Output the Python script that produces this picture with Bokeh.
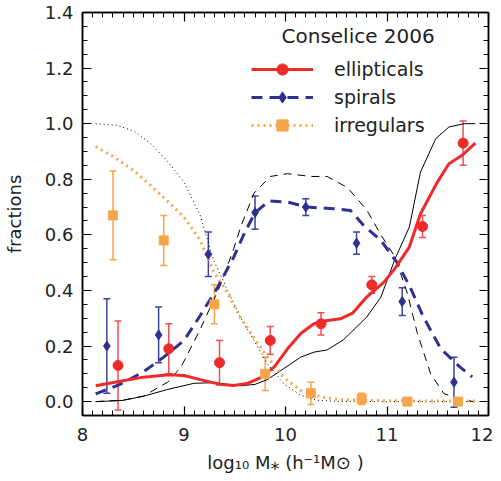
import numpy as np
from bokeh.plotting import figure
from bokeh.models import (Range1d, LinearAxis, FixedTicker, NumeralTickFormatter, CustomJSTickFormatter,
                          Whisker, TeeHead, ColumnDataSource, Legend, LegendItem, Label)
from bokeh.embed import file_html
from bokeh.resources import INLINE

# ---------------- data ----------------
# Conselice 2006 measurements
ell_x = [8.35, 8.85, 9.35, 9.85, 10.35, 10.85, 11.35, 11.75]
ell_y = [0.13, 0.19, 0.14, 0.22, 0.28, 0.42, 0.63, 0.93]
ell_err = [0.16, 0.09, 0.08, 0.05, 0.04, 0.03, 0.04, 0.08]

sp_x = [8.24, 8.75, 9.24, 9.70, 10.20, 10.70, 11.15, 11.66]
sp_y = [0.20, 0.24, 0.53, 0.68, 0.70, 0.57, 0.36, 0.07]
sp_err = [0.17, 0.10, 0.08, 0.06, 0.03, 0.04, 0.05, 0.09]

irr_x = [8.30, 8.80, 9.30, 9.80, 10.25, 10.75, 11.20, 11.70]
irr_y = [0.67, 0.58, 0.35, 0.10, 0.03, 0.01, 0.00, 0.00]
irr_err = [0.16, 0.09, 0.07, 0.06, 0.04, 0.02, 0.00, 0.00]

# model curves (thick coloured)
ell_mx = [8.13, 8.4, 8.6, 8.85, 9.0, 9.16, 9.36, 9.49, 9.62, 9.75, 9.89, 10.02, 10.15,
          10.28, 10.38, 10.54, 10.66, 10.8, 10.97, 11.07, 11.22, 11.33, 11.49, 11.61, 11.74, 11.87]
ell_my = [0.057, 0.075, 0.088, 0.097, 0.094, 0.079, 0.062, 0.058, 0.065, 0.085, 0.125, 0.19, 0.245,
          0.28, 0.29, 0.298, 0.318, 0.376, 0.43, 0.475, 0.556, 0.676, 0.786, 0.856, 0.886, 0.93]

sp_mx = [8.13, 8.37, 8.6, 8.8, 9.0, 9.16, 9.33, 9.49, 9.6, 9.7, 9.84, 10.02, 10.21, 10.47,
         10.64, 10.77, 10.94, 11.1, 11.23, 11.36, 11.53, 11.72, 11.84]
sp_my = [0.028, 0.062, 0.107, 0.16, 0.22, 0.31, 0.41, 0.52, 0.61, 0.68, 0.722, 0.718, 0.70, 0.694,
         0.688, 0.634, 0.58, 0.50, 0.41, 0.304, 0.19, 0.124, 0.089]

irr_mx = [8.13, 8.31, 8.51, 8.67, 8.83, 9.0, 9.16, 9.29, 9.43, 9.56, 9.69, 9.82, 9.98, 10.15,
          10.35, 10.54, 11.0, 11.5, 11.87]
irr_my = [0.918, 0.88, 0.83, 0.778, 0.724, 0.664, 0.58, 0.47, 0.39, 0.30, 0.23, 0.16, 0.088, 0.04,
          0.017, 0.007, 0.003, 0.002, 0.002]

# model curves (thin black)
ell_bx = [8.13, 8.39, 8.6, 8.83, 9.1, 9.3, 9.56, 9.7, 9.82, 9.96, 10.15, 10.28, 10.41, 10.57,
          10.8, 10.94, 11.08, 11.22, 11.33, 11.48, 11.61, 11.76, 11.87]
ell_by = [0.0, 0.004, 0.019, 0.043, 0.066, 0.068, 0.057, 0.062, 0.079, 0.113, 0.16, 0.178, 0.186, 0.222,
          0.304, 0.376, 0.514, 0.628, 0.826, 0.946, 0.988, 1.0, 1.0]

sp_bx = [8.13, 8.4, 8.6, 8.84, 8.97, 9.16, 9.36, 9.49, 9.56, 9.69, 9.85, 10.02, 10.25, 10.41,
         10.61, 10.8, 10.94, 11.08, 11.2, 11.3, 11.43, 11.56, 11.69, 11.85]
sp_by = [0.0, 0.005, 0.02, 0.07, 0.124, 0.26, 0.42, 0.55, 0.63, 0.75, 0.81, 0.82, 0.81, 0.81,
         0.77, 0.69, 0.60, 0.52, 0.39, 0.245, 0.10, 0.029, 0.011, 0.0]

irr_bx = [8.13, 8.34, 8.51, 8.67, 8.83, 9.0, 9.16, 9.29, 9.43, 9.56, 9.69, 9.82, 9.98, 10.15,
          10.31, 10.5, 11.0, 11.5, 11.87]
irr_by = [1.0, 0.994, 0.973, 0.928, 0.868, 0.79, 0.67, 0.51, 0.40, 0.30, 0.22, 0.137, 0.065, 0.023,
          0.005, 0.001, 0.0, 0.0, 0.0]

x_ticks = [8, 9, 10, 11, 12]
y_ticks = [0.0, 0.2, 0.4, 0.6, 0.8, 1.0, 1.2, 1.4]

labels = ["ellipticals", "spirals", "irregulars"]
title_text = "Conselice 2006"

# ---------------- style ----------------
FONT = "DejaVu Sans"
FS = "18px"
RED = "#EE2A2A"
RED_E = "#EF5050"
BLUE = "#2E3192"
BLUE_E = "#3C42A0"
ORANGE = "#F7A54B"
TXT = "#222222"

FW, FH = 406, 403
p = figure(frame_width=FW, frame_height=FH, x_range=Range1d(8, 12), y_range=Range1d(-0.05, 1.4),
           output_backend="svg", toolbar_location=None,
           min_border_left=82, min_border_right=5, min_border_top=12, min_border_bottom=58)
p.xgrid.visible = False
p.ygrid.visible = False
p.outline_line_color = "black"
p.outline_line_width = 1.5
p.background_fill_color = "white"
p.border_fill_color = "white"

yminor = [round(v, 2) for v in np.arange(-0.05, 1.41, 0.05)]
xminor = [round(v, 1) for v in np.arange(8, 12.01, 0.1)]

p.xaxis.ticker = FixedTicker(ticks=x_ticks, minor_ticks=xminor)
p.yaxis.ticker = FixedTicker(ticks=y_ticks, minor_ticks=yminor)
p.yaxis.formatter = NumeralTickFormatter(format="0.0")
for ax in (p.xaxis[0], p.yaxis[0]):
    ax.major_tick_in = 9
    ax.major_tick_out = 0
    ax.minor_tick_in = 5
    ax.minor_tick_out = 0
    ax.axis_line_width = 1.5
    ax.major_tick_line_width = 1.2
    ax.minor_tick_line_width = 1.0
    ax.major_label_text_font = FONT
    ax.major_label_text_font_size = FS
    ax.major_label_text_color = TXT
    ax.axis_label_text_font = FONT
    ax.axis_label_text_font_size = FS
    ax.axis_label_text_font_style = "normal"
    ax.axis_label_text_color = TXT
p.xaxis.major_label_standoff = 12
p.yaxis.major_label_standoff = 9
p.xaxis.axis_label = "log\u2081\u2080 M\u204e (h\u207b\u00b9M\u2299 )"
p.yaxis.axis_label = "fractions"
p.xaxis.axis_label_standoff = 8
p.yaxis.axis_label_standoff = 17

blank = CustomJSTickFormatter(code="return ''")
top = LinearAxis(ticker=FixedTicker(ticks=x_ticks, minor_ticks=xminor), formatter=blank)
right = LinearAxis(ticker=FixedTicker(ticks=y_ticks, minor_ticks=yminor), formatter=blank)
for ax in (top, right):
    ax.major_tick_in = 9
    ax.major_tick_out = 0
    ax.minor_tick_in = 5
    ax.minor_tick_out = 0
    ax.axis_line_width = 1.5
    ax.major_tick_line_width = 1.2
    ax.major_label_text_font_size = "0px"
    ax.major_label_standoff = 0
p.add_layout(top, "above")
p.add_layout(right, "right")

# thin black models
p.line(ell_bx, ell_by, line_color="black", line_width=1)
p.line(sp_bx, sp_by, line_color="black", line_width=1, line_dash="8 6")
p.line(irr_bx, irr_by, line_color="black", line_width=1, line_dash="1 3")

# coloured models
r_irr_l = p.line(irr_mx, irr_my, line_color=ORANGE, line_width=3, line_dash="2 4")
r_sp_l = p.line(sp_mx, sp_my, line_color=BLUE, line_width=3, line_dash="11 7")
r_ell_l = p.line(ell_mx, ell_my, line_color=RED, line_width=3)


def errs(xs, ys, es, color):
    src = ColumnDataSource(dict(x=xs, up=[a + b for a, b in zip(ys, es)],
                                lo=[a - b for a, b in zip(ys, es)]))
    w = Whisker(source=src, base="x", upper="up", lower="lo", dimension="height",
                line_color=color, line_width=1.5,
                upper_head=TeeHead(size=7, line_color=color, line_width=1.5),
                lower_head=TeeHead(size=7, line_color=color, line_width=1.5))
    p.add_layout(w)


errs(irr_x, irr_y, irr_err, ORANGE)
errs(sp_x, sp_y, sp_err, BLUE_E)
errs(ell_x, ell_y, ell_err, RED_E)

r_irr_s = p.scatter(irr_x, irr_y, marker="square", size=9, fill_color=ORANGE, line_color=ORANGE)
r_sp_s = p.scatter(sp_x, sp_y, marker="diamond", size=10, fill_color=BLUE, line_color=BLUE)
r_ell_s = p.scatter(ell_x, ell_y, marker="circle", size=10, fill_color=RED, line_color=RED)

legend = Legend(items=[LegendItem(label=labels[0], renderers=[r_ell_l, r_ell_s]),
                       LegendItem(label=labels[1], renderers=[r_sp_l, r_sp_s]),
                       LegendItem(label=labels[2], renderers=[r_irr_l, r_irr_s])],
                location=(169, 276), glyph_width=62, glyph_height=28, label_height=28,
                spacing=0, padding=0, margin=0, label_standoff=21,
                border_line_color=None, background_fill_alpha=0,
                label_text_font=FONT, label_text_font_size="19px", label_text_color=TXT)
p.add_layout(legend)

p.add_layout(Label(x=199, y=FH - 23, x_units="screen", y_units="screen", text=title_text,
                   text_align="left", text_baseline="middle",
                   text_font=FONT, text_font_size="20px", text_color=TXT))

open("out.html", "w").write(file_html(p, INLINE))
